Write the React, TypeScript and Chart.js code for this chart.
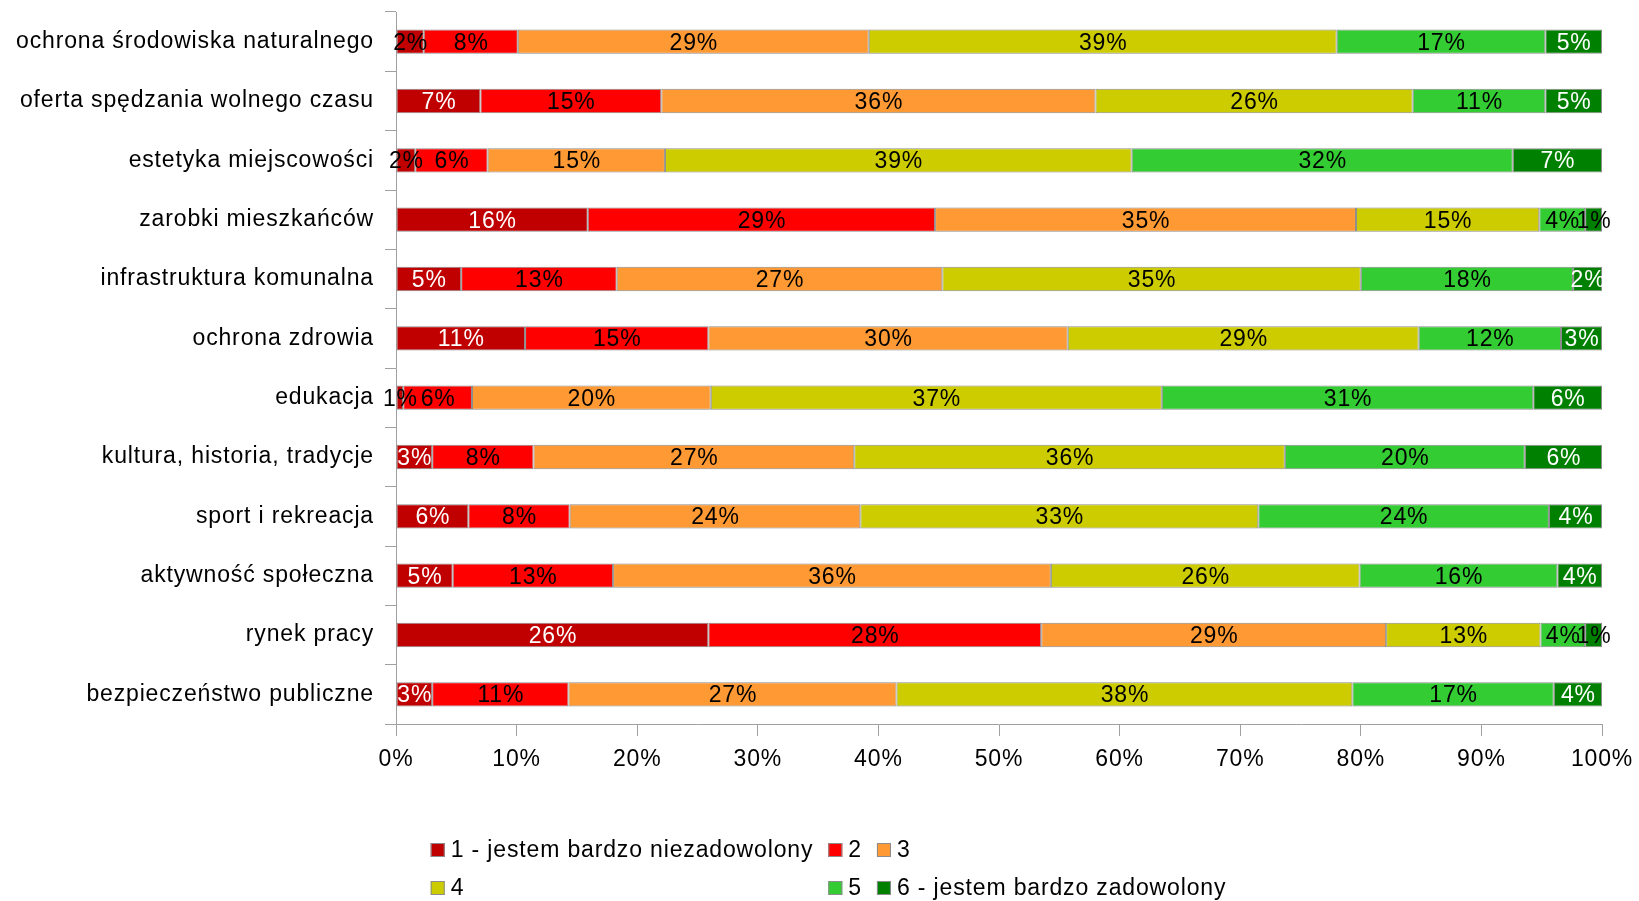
import React, { useEffect, useRef } from "react";
import { Chart, registerables } from "chart.js";

Chart.register(...registerables);

const categories = [
  "ochrona środowiska naturalnego",
  "oferta spędzania wolnego czasu",
  "estetyka miejscowości",
  "zarobki mieszkańców",
  "infrastruktura komunalna",
  "ochrona zdrowia",
  "edukacja",
  "kultura, historia, tradycje",
  "sport i rekreacja",
  "aktywność społeczna",
  "rynek pracy",
  "bezpieczeństwo publiczne",
];

const seriesNames = [
  "1 - jestem bardzo niezadowolony",
  "2",
  "3",
  "4",
  "5",
  "6 - jestem bardzo zadowolony",
];

const s1 = [2.3, 7.0, 1.6, 15.9, 5.4, 10.7, 0.6, 3.0, 6.0, 4.7, 25.9, 3.0];
const s2 = [7.8, 15.0, 6.0, 28.8, 12.9, 15.2, 5.7, 8.4, 8.4, 13.3, 27.6, 11.3];
const s3 = [29.1, 36.0, 14.7, 34.9, 27.0, 29.8, 19.8, 26.6, 24.1, 36.3, 28.6, 27.2];
const s4 = [38.8, 26.3, 38.7, 15.2, 34.7, 29.1, 37.4, 35.7, 33.0, 25.6, 12.8, 37.8];
const s5 = [17.3, 11.0, 31.6, 3.8, 17.6, 11.8, 30.8, 19.9, 24.1, 16.4, 3.7, 16.7];
const s6 = [4.7, 4.7, 7.4, 1.4, 2.4, 3.4, 5.7, 6.4, 4.4, 3.7, 1.4, 4.0];

const xTicks = [0, 10, 20, 30, 40, 50, 60, 70, 80, 90, 100];

const colors = ["#C00000", "#FF0000", "#FF9933", "#CCCC00", "#33CC33", "#008000"];
const FONT = "'Liberation Sans', Arial, sans-serif";
const FSIZE = 23;
const SPACING = "0.85px";

const spacingPlugin = {
  id: "spacing",
  beforeDraw(chart: any) {
    chart.ctx.letterSpacing = SPACING;
  },
};

const labelPlugin = {
  id: "segLabels",
  afterDatasetsDraw(chart: any) {
    const ctx = chart.ctx;
    ctx.save();
    ctx.letterSpacing = SPACING;
    ctx.font = `${FSIZE}px ${FONT}`;
    ctx.textAlign = "center";
    ctx.textBaseline = "middle";
    chart.data.datasets.forEach((ds: any, di: number) => {
      const meta = chart.getDatasetMeta(di);
      meta.data.forEach((el: any, i: number) => {
        const v = ds.data[i] as number;
        const p = el.getCenterPoint();
        const white = (di === 0 || di === 5) && v >= 2.35;
        ctx.fillStyle = white ? "#FFFFFF" : "#000000";
        ctx.fillText(`${Math.round(v)}%`, p.x + 0.5, p.y + 1.5);
      });
    });
    ctx.restore();
  },
};

const legendPlugin = {
  id: "gridLegend",
  afterDraw(chart: any) {
    const ctx = chart.ctx;
    ctx.save();
    ctx.letterSpacing = SPACING;
    ctx.font = `${FSIZE}px ${FONT}`;
    ctx.textBaseline = "middle";
    const ds = chart.data.datasets;
    const cols = 3;
    const sw = 14;
    const gapSw = 6;
    const gapItem = 15;
    const colW: number[] = [];
    for (let c = 0; c < cols; c++) {
      let m = 0;
      for (let r = 0; r < 2; r++) {
        const d = ds[r * cols + c];
        if (d) m = Math.max(m, ctx.measureText(d.label).width);
      }
      colW.push(sw + gapSw + m + gapItem);
    }
    const total = colW.reduce((a, b) => a + b, 0) - gapItem;
    const x0 = chart.width / 2 - total / 2 + 9;
    const rowsY = [850, 888];
    ds.forEach((d: any, i: number) => {
      const r = Math.floor(i / cols);
      const c = i % cols;
      let x = x0;
      for (let k = 0; k < c; k++) x += colW[k];
      const y = rowsY[r];
      ctx.fillStyle = d.backgroundColor;
      ctx.fillRect(x, y - sw / 2, sw, sw);
      ctx.strokeStyle = "#8c8c8c";
      ctx.lineWidth = 1;
      ctx.strokeRect(x + 0.5, y - sw / 2 + 0.5, sw - 1, sw - 1);
      ctx.fillStyle = "#000000";
      ctx.textAlign = "left";
      ctx.fillText(d.label, x + sw + gapSw, y + 1);
    });
    ctx.restore();
  },
};

export default function App() {
  const ref = useRef<HTMLCanvasElement>(null);
  useEffect(() => {
    document.body.style.margin = "0";
    const series = [s1, s2, s3, s4, s5, s6];
    const chart = new Chart(ref.current!, {
      type: "bar",
      data: {
        labels: categories,
        datasets: series.map((d, i) => ({
          label: seriesNames[i],
          data: d,
          backgroundColor: colors[i],
          borderColor: "#8c8c8c",
          borderWidth: 1,
          borderSkipped: false,
          barPercentage: 0.41,
          categoryPercentage: 1,
        })),
      },
      options: {
        indexAxis: "y",
        animation: false,
        responsive: false,
        maintainAspectRatio: false,
        layout: { padding: { top: 12, right: 37, bottom: 117, left: 0 } },
        plugins: {
          legend: { display: false },
          tooltip: { enabled: false },
        },
        scales: {
          x: {
            stacked: true,
            min: 0,
            max: 100,
            afterBuildTicks: (s: any) => {
              s.ticks = xTicks.map((v) => ({ value: v }));
            },
            afterFit: (s: any) => {
              s.height = 60;
              s.paddingLeft = 0;
              s.paddingRight = 0;
            },
            ticks: {
              callback: (v: any) => `${v}%`,
              color: "#000",
              font: { family: FONT, size: FSIZE },
              padding: 10,
              maxRotation: 0,
            },
            grid: {
              drawOnChartArea: false,
              drawTicks: true,
              tickLength: 12,
              color: "#a0a0a0",
            },
            border: { color: "#a0a0a0", width: 1 },
          },
          y: {
            stacked: true,
            afterFit: (s: any) => {
              s.width = 396;
              s.paddingTop = 0;
              s.paddingBottom = 0;
            },
            ticks: {
              color: "#000",
              font: { family: FONT, size: FSIZE },
              padding: 11,
              autoSkip: false,
            },
            grid: {
              offset: true,
              drawOnChartArea: false,
              drawTicks: true,
              tickLength: 11,
              color: "#a0a0a0",
            },
            border: { color: "#a0a0a0", width: 1 },
          },
        },
      },
      plugins: [spacingPlugin, labelPlugin, legendPlugin],
    });
    return () => chart.destroy();
  }, []);
  return (
    <div style={{ position: "absolute", left: 0, top: 0, width: 1639, height: 901, background: "#fff" }}>
      <canvas ref={ref} width={1639} height={901} style={{ width: 1639, height: 901 }} />
    </div>
  );
}
